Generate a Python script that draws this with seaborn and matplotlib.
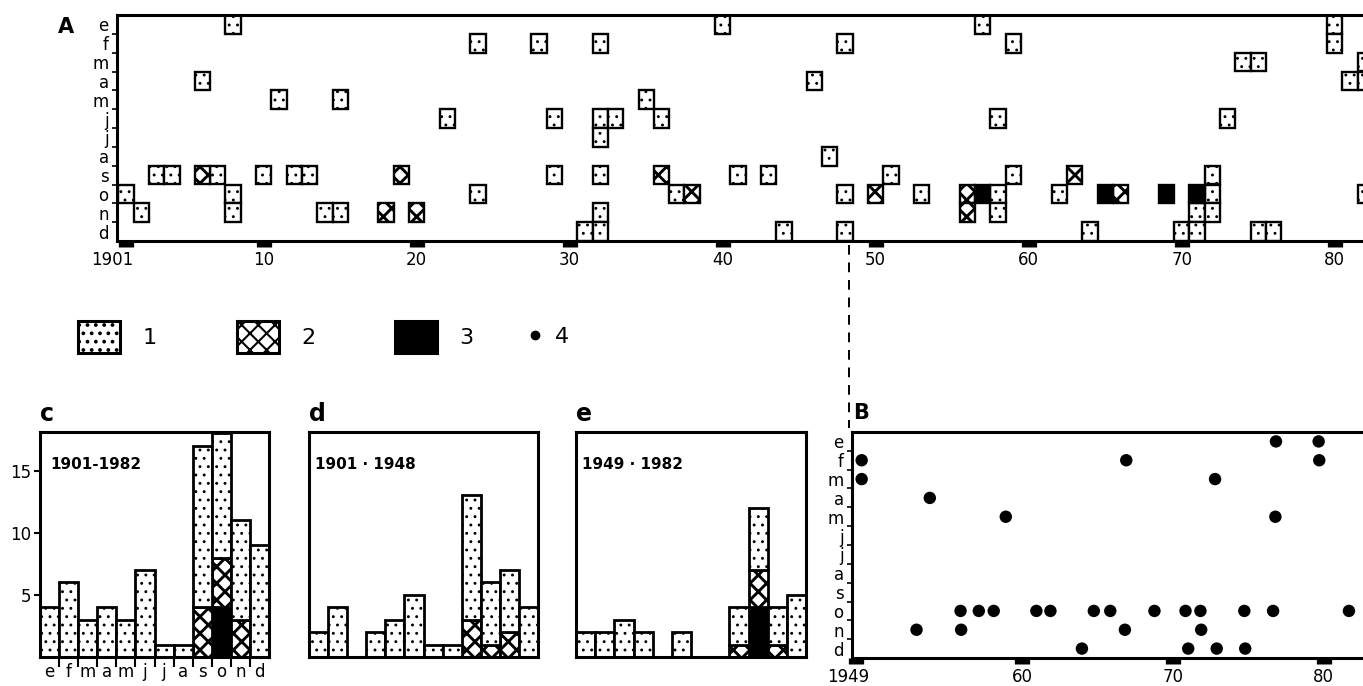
import matplotlib
matplotlib.use("Agg")
from matplotlib import pyplot as plt
from matplotlib.lines import Line2D
from matplotlib.patches import Patch
import matplotlib.transforms as mtransforms
import seaborn as sns
import numpy as np
import pandas as pd

months = ["e", "f", "m", "a", "m", "j", "j", "a", "s", "o", "n", "d"]

# panel A: one box per event (year, month 1-12, kind 1/2/3)
ev_year = [1901, 1902, 1903, 1904, 1906, 1906, 1907, 1908, 1908, 1908,
           1910, 1911, 1912, 1913, 1914, 1915, 1915, 1918, 1919, 1920,
           1922, 1924, 1924, 1928, 1929, 1929, 1931, 1932, 1932, 1932,
           1932, 1932, 1932, 1933, 1935, 1936, 1936, 1937, 1938, 1940,
           1941, 1943, 1944, 1946, 1947, 1948, 1948, 1948,
           1950, 1951, 1953, 1956, 1956, 1957, 1957, 1958, 1958, 1958,
           1959, 1959, 1962, 1963, 1964, 1965, 1966, 1969, 1970, 1971,
           1971, 1971, 1972, 1972, 1972, 1973, 1974, 1975, 1975, 1976,
           1980, 1980, 1981, 1982, 1982, 1982]
ev_month = [10, 11, 9, 9, 4, 9, 9, 1, 10, 11,
            9, 5, 9, 9, 11, 5, 11, 11, 9, 11,
            6, 2, 10, 2, 6, 9, 12, 2, 6, 7,
            9, 11, 12, 6, 5, 6, 9, 10, 10, 1,
            9, 9, 12, 4, 8, 2, 10, 12,
            10, 9, 10, 10, 11, 1, 10, 6, 10, 11,
            2, 9, 10, 9, 12, 10, 10, 10, 12, 10,
            11, 12, 9, 10, 11, 6, 3, 3, 12, 12,
            1, 2, 4, 3, 4, 10]
ev_kind = [1, 1, 1, 1, 1, 2, 1, 1, 1, 1,
           1, 1, 1, 1, 1, 1, 1, 2, 2, 2,
           1, 1, 1, 1, 1, 1, 1, 1, 1, 1,
           1, 1, 1, 1, 1, 1, 2, 1, 2, 1,
           1, 1, 1, 1, 1, 1, 1, 1,
           2, 1, 1, 2, 2, 1, 3, 1, 1, 1,
           1, 1, 1, 2, 1, 3, 2, 3, 1, 3,
           1, 1, 1, 1, 1, 1, 1, 1, 1, 1,
           1, 1, 1, 1, 1, 1]

# panel B: dots (decimal year, month 1-12)
dot_year = [1949.35, 1949.35, 1953.87, 1958.91, 1966.9, 1972.79, 1976.83,
            1976.79, 1979.66, 1979.7, 1952.99, 1955.91, 1955.95, 1957.12,
            1958.11, 1960.94, 1961.87, 1963.96, 1964.75, 1965.84, 1966.81,
            1968.77, 1970.83, 1971.01, 1971.82, 1971.87, 1972.9, 1974.73,
            1974.79, 1976.64, 1981.67]
dot_month = [2, 3, 4, 5, 2, 3, 1,
             5, 1, 2, 11, 10, 11, 10,
             10, 10, 10, 12, 10, 10, 11,
             10, 10, 12, 10, 11, 12, 10,
             12, 10, 10]

periods = [("c", "1901-1982", 1901, 1982),
           ("d", "1901 · 1948", 1901, 1948),
           ("e", "1949 · 1982", 1949, 1982)]

sns.set_style("ticks")
plt.rcParams["font.family"] = ["DejaVu Sans"]
plt.rcParams.update({"axes.linewidth": 2.2, "axes.edgecolor": "black",
                     "xtick.color": "black", "ytick.color": "black",
                     "text.color": "black", "axes.labelcolor": "black"})

hatches = {1: "..", 2: "xx", 3: ""}
faces = {1: "white", 2: "white", 3: "black"}
hlw = {1: 0.9, 2: 2.1, 3: 1.0}

df = pd.DataFrame({"year": ev_year, "month": ev_month, "kind": ev_kind})

W, H = 1363, 686
fig = plt.figure(figsize=(13.63, 6.86), dpi=100)


def rect(l, t, r, b):
    return [l / W, 1 - b / H, (r - l) / W, (b - t) / H]


def set_hlw(bars, k):
    for p in bars:
        if hasattr(p, "set_hatch_linewidth"):
            p.set_hatch_linewidth(hlw[k])


def month_axis(ax):
    ax.set_ylim(12, 0)
    ax.set_yticks(np.arange(1, 12))
    ax.set_yticklabels([])
    ax.set_yticks(np.arange(12) + 0.5, minor=True)
    ax.set_yticklabels(months, minor=True)
    ax.tick_params(axis="y", which="major", length=3.5, width=1.2, direction="out")
    ax.tick_params(axis="y", which="minor", length=0, pad=6, labelsize=12)
    ax.spines["right"].set_visible(False)


def shift_first(ax, dx):
    lab = ax.xaxis.get_major_ticks()[0].label1
    lab.set_transform(lab.get_transform() +
                      mtransforms.ScaledTranslation(dx / 100, 0, fig.dpi_scale_trans))


# ---- panel A
axA = fig.add_axes(rect(117, 15, 1373, 241))
for k in (1, 2, 3):
    sel = df[df.kind == k]
    with plt.rc_context({"hatch.linewidth": hlw[k]}):
        bars = axA.bar(sel.year, 1, bottom=sel.month - 1, width=1,
                       color=faces[k], edgecolor="black", linewidth=1.7,
                       hatch=hatches[k])
    set_hlw(bars, k)
axA.set_xlim(1900.41, 1982.5)
month_axis(axA)
axA.set_xticks([1901, 1910, 1920, 1930, 1940, 1950, 1960, 1970, 1980])
axA.set_xticklabels(["1901", "10", "20", "30", "40", "50", "60", "70", "80"])
axA.tick_params(axis="x", length=4, width=11, direction="out", pad=3, labelsize=12)
shift_first(axA, -14)

# ---- histograms c, d, e
hist_box = {"c": (40, 269), "d": (309, 538), "e": (576, 806)}
for tag, label, lo, hi in periods:
    l, r = hist_box[tag]
    ax = fig.add_axes(rect(l, 432, r, 657))
    sub = df[(df.year >= lo) & (df.year <= hi)]
    bottom = np.zeros(12)
    for k in (3, 2, 1):
        counts = (sub[sub.kind == k].groupby("month").size()
                  .reindex(range(1, 13), fill_value=0).values)
        with plt.rc_context({"hatch.linewidth": hlw[k]}):
            bars = ax.bar(np.arange(12), counts, bottom=bottom, width=1,
                          color=faces[k], edgecolor="black", linewidth=2.0,
                          hatch=hatches[k])
        set_hlw(bars, k)
        bottom = bottom + counts
    ax.set_xlim(-0.5, 11.5)
    ax.set_ylim(0, 18.1)
    if tag == "c":
        ax.set_xticks(np.arange(12))
        ax.set_xticklabels(months)
        ax.set_xticks(np.arange(11) + 0.5, minor=True)
        ax.tick_params(axis="x", which="major", length=0, pad=4, labelsize=12)
        ax.tick_params(axis="x", which="minor", length=7, width=1.5, direction="out")
        ax.set_yticks([5, 10, 15])
        ax.tick_params(axis="y", length=4, width=1.5, direction="out", pad=2, labelsize=12)
    else:
        ax.set_xticks([])
        ax.set_yticks([])
    ax.text(0.045 if tag == "c" else 0.025, 0.855, label, transform=ax.transAxes,
            ha="left", va="center", fontsize=11, fontweight="bold")
    fig.text(l / W, 1 - 421 / H, tag, ha="left", va="baseline",
             fontsize=17, fontweight="bold")

# ---- panel B
axB = fig.add_axes(rect(852, 432, 1369, 658))
sns.scatterplot(x=dot_year, y=np.array(dot_month) - 0.5, ax=axB, color="black",
                s=80, edgecolor="none", legend=False)
axB.set_xlim(1948.71, 1983)
month_axis(axB)
axB.set_xticks([1949, 1960, 1970, 1980])
axB.set_xticklabels(["1949", "60", "70", "80"])
axB.tick_params(axis="x", length=4, width=11, direction="out", pad=3, labelsize=12)
shift_first(axB, -8)

fig.text(58 / W, 1 - 33 / H, "A", ha="left", va="baseline", fontsize=15, fontweight="bold")
fig.text(853 / W, 1 - 419 / H, "B", ha="left", va="baseline", fontsize=15, fontweight="bold")

# dashed connector from A to B
fig.add_artist(Line2D([849 / W, 849 / W], [1 - 245 / H, 1 - 428 / H],
                      transform=fig.transFigure, color="black", lw=1.4,
                      ls=(0, (5, 4))))

# ---- legend
handles = []
for k in (1, 2, 3):
    with plt.rc_context({"hatch.linewidth": hlw[k]}):
        p = Patch(facecolor=faces[k], edgecolor="black", linewidth=2.2, hatch=hatches[k])
    if hasattr(p, "set_hatch_linewidth"):
        p.set_hatch_linewidth(hlw[k])
    handles.append(p)
with plt.rc_context({"hatch.linewidth": 1.5}):
    leg = fig.legend(handles, ["1", "2", "3"], loc="center left",
                     bbox_to_anchor=(78 / W, 1 - 337 / H), ncol=3, frameon=False,
                     fontsize=16, handlelength=1.9, handleheight=1.85,
                     handletextpad=1.0, columnspacing=3.6, borderpad=0,
                     borderaxespad=0)
dot_handle = Line2D([], [], ls="none", marker="o", color="black", markersize=6)
fig.legend([dot_handle], ["4"], loc="center left",
           bbox_to_anchor=(528 / W, 1 - 337 / H), frameon=False, fontsize=16,
           handlelength=0.6, handletextpad=0.6, borderpad=0, borderaxespad=0)

fig.savefig("out.png", dpi=100)
